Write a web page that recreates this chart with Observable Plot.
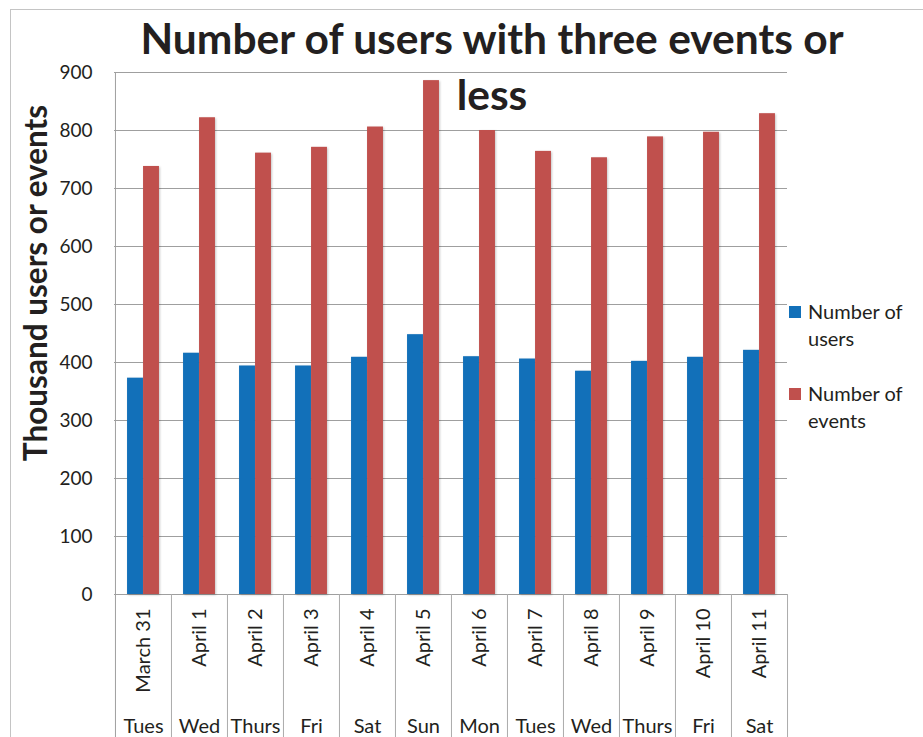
<!DOCTYPE html>
<html>
<head>
<meta charset="utf-8">
<script src="https://cdn.jsdelivr.net/npm/d3@7"></script>
<script src="https://cdn.jsdelivr.net/npm/@observablehq/plot@0.6"></script>
<style>
  html, body { margin: 0; padding: 0; background: #fff; }
  #wrap { position: relative; width: 923px; height: 737px; overflow: hidden; background: #fff; font-family: Lato, "Open Sans", sans-serif; }
  #wrap svg { position: absolute; left: 0; top: 0; }
  .border { position: absolute; left: 10px; top: 9px; width: 1000px; height: 1000px; border-left: 1px solid #c4c4c4; border-top: 1px solid #c4c4c4; pointer-events: none; }
  .title { position: absolute; left: 92px; top: 10px; width: 800px; text-align: center; font-weight: 700; font-size: 42.5px; line-height: 56px; color: #231f20; white-space: nowrap; }
  .ylabel { position: absolute; left: -165px; top: 265px; width: 400px; height: 36px; line-height: 36px; text-align: center; font-weight: 700; font-size: 31.5px; color: #231f20; transform: rotate(-90deg); white-space: nowrap; }
  .legend { position: absolute; left: 789px; font-size: 20px; line-height: 27px; color: #231f20; }
  .legend .sw { position: absolute; left: 0; top: 8px; width: 12px; height: 12px; }
  .legend .tx { position: absolute; left: 19px; top: 0; white-space: nowrap; }
  g[aria-label="bar"] rect { filter: drop-shadow(1.5px 1px 1px rgba(0,0,0,0.22)); }
</style>
</head>
<body>
<div id="wrap"></div>
<script>
// ---- data ----
const dates = ["March 31", "April 1", "April 2", "April 3", "April 4", "April 5",
               "April 6", "April 7", "April 8", "April 9", "April 10", "April 11"];
const days = ["Tues", "Wed", "Thurs", "Fri", "Sat", "Sun", "Mon", "Tues", "Wed", "Thurs", "Fri", "Sat"];
const users  = [373, 416, 394, 394, 409, 448, 410, 406, 385, 402, 409, 421];
const events = [738, 822, 761, 771, 806, 886, 800, 764, 753, 789, 797, 829];
const yTicks = [0, 100, 200, 300, 400, 500, 600, 700, 800, 900];
const seriesNames = ["Number of users", "Number of events"];
const seriesColors = ["#1270b9", "#c0504d"];

// ---- layout ----
const W = 923, H = 737;
const mL = 114, mR = 136, mT = 72, mB = 143;
const bw = (W - mL - mR) / dates.length;
const frameH = H - mT - mB;
const barW = 16;

const userRows = dates.map((d, i) => ({date: d, value: users[i]}));
const eventRows = dates.map((d, i) => ({date: d, value: events[i]}));

const chart = Plot.plot({
  width: W,
  height: H,
  marginLeft: mL,
  marginRight: mR,
  marginTop: mT,
  marginBottom: mB,
  style: {fontFamily: "Lato, 'Open Sans', sans-serif", color: "#231f20", background: "transparent", overflow: "visible"},
  x: {domain: dates, padding: 0, axis: null, label: null},
  y: {domain: [0, 900], axis: null, label: null},
  marks: [
    Plot.gridY(yTicks, {stroke: "#9f9f9f", strokeOpacity: 1, strokeWidth: 1}),
    Plot.axisY(yTicks, {tickSize: 0, tickPadding: 22, fontSize: 19, fill: "#231f20", label: null}),
    // left axis line (continues down through the category area)
    Plot.ruleX([dates[0]], {dx: -bw / 2, insetBottom: -mB, stroke: "#9f9f9f"}),
    // category separators below the plot
    Plot.ruleX(dates.slice(1), {dx: -bw / 2, insetTop: frameH, insetBottom: -mB, stroke: "#ababab"}),
    Plot.ruleX([dates[dates.length - 1]], {dx: bw / 2, insetTop: frameH, insetBottom: -mB, stroke: "#ababab"}),
    Plot.barY(userRows, {x: "date", y: "value", fill: seriesColors[0], insetLeft: bw / 2 - barW, insetRight: bw / 2}),
    Plot.barY(eventRows, {x: "date", y: "value", fill: seriesColors[1], insetLeft: bw / 2, insetRight: bw / 2 - barW}),
    Plot.axisX({tickRotate: -90, tickSize: 0, tickPadding: 14, fontSize: 20, fill: "#231f20", label: null}),
    Plot.axisX({tickSize: 0, tickPadding: 124, fontSize: 20, fill: "#231f20", label: null, tickFormat: d => days[dates.indexOf(d)]})
  ]
});

const wrap = document.getElementById("wrap");
wrap.appendChild(chart);

const border = document.createElement("div");
border.className = "border";
wrap.appendChild(border);

const title = document.createElement("div");
title.className = "title";
title.innerHTML = "Number of users with three events or<br>less";
wrap.appendChild(title);

const ylabel = document.createElement("div");
ylabel.className = "ylabel";
ylabel.textContent = "Thousand users or events";
wrap.appendChild(ylabel);

const legendTops = [298, 380];
seriesNames.forEach((name, i) => {
  const g = document.createElement("div");
  g.className = "legend";
  g.style.top = legendTops[i] + "px";
  const sw = document.createElement("div");
  sw.className = "sw";
  sw.style.background = seriesColors[i];
  const tx = document.createElement("div");
  tx.className = "tx";
  const words = name.split(" ");
  tx.innerHTML = words.slice(0, 2).join(" ") + "<br>" + words.slice(2).join(" ");
  g.appendChild(sw);
  g.appendChild(tx);
  wrap.appendChild(g);
});
</script>
</body>
</html>
